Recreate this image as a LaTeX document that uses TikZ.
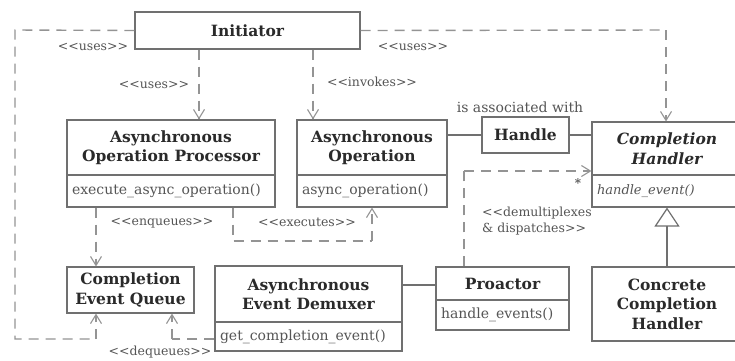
\documentclass[tikz,border=0pt]{standalone}
\usepackage{fontspec}
\setmainfont{DejaVu Serif}
\usetikzlibrary{arrows.meta}
\definecolor{boxline}{HTML}{707070}
\definecolor{dashline}{HTML}{949494}
\definecolor{ink}{HTML}{2A2A2A}
\definecolor{softink}{HTML}{555555}
% stereotype brackets, kept apart so they stay as plain angle brackets
\newcommand\stypeopen{<\kern0pt<}
\newcommand\stypeclose{>\kern0pt>}
\newcommand\stypename[1]{\stypeopen#1\stypeclose}
\begin{document}
\begin{tikzpicture}[x=1pt,y=-1pt,
  clsname/.style={draw=boxline, line width=1.1pt, fill=white, inner sep=0pt,
    align=center, text=ink, font=\fontsize{15.5}{19.5}\selectfont\bfseries},
  clsmeth/.style={draw=boxline, line width=1.1pt, fill=white, inner sep=0pt,
    align=left, text=softink, font=\fontsize{14}{15}\selectfont, text width=#1},
  clsmeth/.default=140pt,
  dep/.style={draw=dashline, line width=1.4pt, dash pattern=on 10pt off 7pt},
  deparrow/.style={dep, -{Straight Barb[length=9pt,width=11pt,line width=1.1pt]}},
  assoc/.style={draw=boxline, line width=1.3pt},
  stereo/.style={text=softink, font=\fontsize{12.5}{14}\selectfont, inner sep=0pt}
]
\clip (0,0) rectangle (735,360);
\fill[white] (0,0) rectangle (735,360);

\node[clsname, minimum width=225pt, minimum height=37pt] (ini) at (247.5,30.5) {Initiator};
\coordinate (tl) at (15,30);
\coordinate (bl) at (15,339);
\coordinate (qb) at (96,339);
\coordinate (tr) at (666,30);

% classes
\node[clsname, minimum width=208pt, minimum height=55pt] (aop) at (171,147.5)
  {Asynchronous\\Operation Processor};
\node[clsmeth=198pt, minimum width=208pt, minimum height=32pt] (aopm) at (171,191)
  {execute\_async\_operation()};

\node[clsname, minimum width=150pt, minimum height=55pt] (ao) at (372,147.5)
  {Asynchronous\\Operation};
\node[clsmeth=140pt, minimum width=150pt, minimum height=32pt] (aom) at (372,191)
  {async\_operation()};

\node[clsname, minimum width=87pt, minimum height=36pt] (hdl) at (525.5,135) {Handle};

\node[clsname, minimum width=150pt, minimum height=53pt, font=\fontsize{15.5}{19.5}\selectfont\bfseries\itshape]
  (ch) at (667,148.5) {Completion\\Handler};
\node[clsmeth=140pt, minimum width=150pt, minimum height=32pt, font=\fontsize{13}{15}\selectfont\itshape]
  (chm) at (667,191) {handle\_event()};

\node[clsname, minimum width=127pt, minimum height=46pt] (ceq) at (130.5,290)
  {Completion\\Event Queue};

\node[clsname, minimum width=187pt, minimum height=56pt] (dem) at (308.5,294)
  {Asynchronous\\Event Demuxer};
\node[clsmeth=177pt, minimum width=187pt, minimum height=29pt] (demm) at (308.5,336.5)
  {get\_completion\_event()};

\node[clsname, minimum width=133pt, minimum height=33pt] (pro) at (502.5,283.5) {Proactor};
\node[clsmeth=123pt, minimum width=133pt, minimum height=30pt] (prom) at (502.5,315)
  {handle\_events()};

\node[clsname, minimum width=150pt, minimum height=74pt] (cch) at (667,304)
  {Concrete\\Completion\\Handler};

% Initiator dependencies
\draw[dep] (ini.west) -- (tl) -- (bl) -- (qb);
\draw[deparrow] (qb) -- (ceq.south -| qb);
\draw[dep] (ini.east) -- (tr);
\draw[deparrow] (tr) -- (ch.north -| tr);
\draw[deparrow] (ini.south -| 199,0) -- (aop.north -| 199,0);
\draw[deparrow] (ini.south -| 313,0) -- (ao.north -| 313,0);

% processor, queue and demuxer
\draw[deparrow] (aopm.south -| 96,0) -- (ceq.north -| 96,0);
\coordinate (ex1) at (233,241);
\coordinate (ex2) at (372,241);
\draw[dep] (aopm.south -| ex1) -- (ex1) -- (ex2);
\draw[deparrow] (ex2) -- (aom.south);
\coordinate (dq) at (172,339);
\draw[dep] (demm.west |- dq) -- (dq);
\draw[deparrow] (dq) -- (ceq.south -| dq);

% associations
\draw[assoc] (ao.east |- hdl) -- (hdl.west);
\draw[assoc] (hdl.east) -- (ch.west |- hdl);
\draw[assoc] (dem.east |- 0,285) -- (pro.west |- 0,285);

% proactor dispatches to handlers
\coordinate (px) at (464,171);
\draw[dep] (pro.north -| px) -- (px);
\draw[deparrow] (px) -- (ch.west |- px);

% generalization
\draw[boxline, line width=1.2pt, -{Triangle[open, length=19pt, width=25pt, fill=white]}]
  (cch.north) -- (chm.south);

% stereotypes and labels
\node[stereo] (l1) at (93,47) {\stypename{uses}};
\node[stereo] (l2) at (413,47) {\stypename{uses}};
\node[stereo] (l3) at (154,85) {\stypename{uses}};
\node[stereo] (l4) at (372,82) {\stypename{invokes}};
\node[stereo, font=\fontsize{14}{15}\selectfont] (l5) at (520,107) {is associated with};
\node[stereo] (l6) at (162,223) {\stypename{enqueues}};
\node[stereo] (l7) at (307,222) {\stypename{executes}};
\node[stereo] (l8) at (160,352) {\stypename{dequeues}};
\node[stereo, align=left, anchor=west, font=\fontsize{12.5}{17}\selectfont] (l9) at (482,221)
  {\stypeopen demultiplexes\\[-1pt]\& dispatches\stypeclose};
\node[stereo, font=\fontsize{12}{13}\selectfont\bfseries] (mult) at (578,183) {*};
\end{tikzpicture}
\end{document}
